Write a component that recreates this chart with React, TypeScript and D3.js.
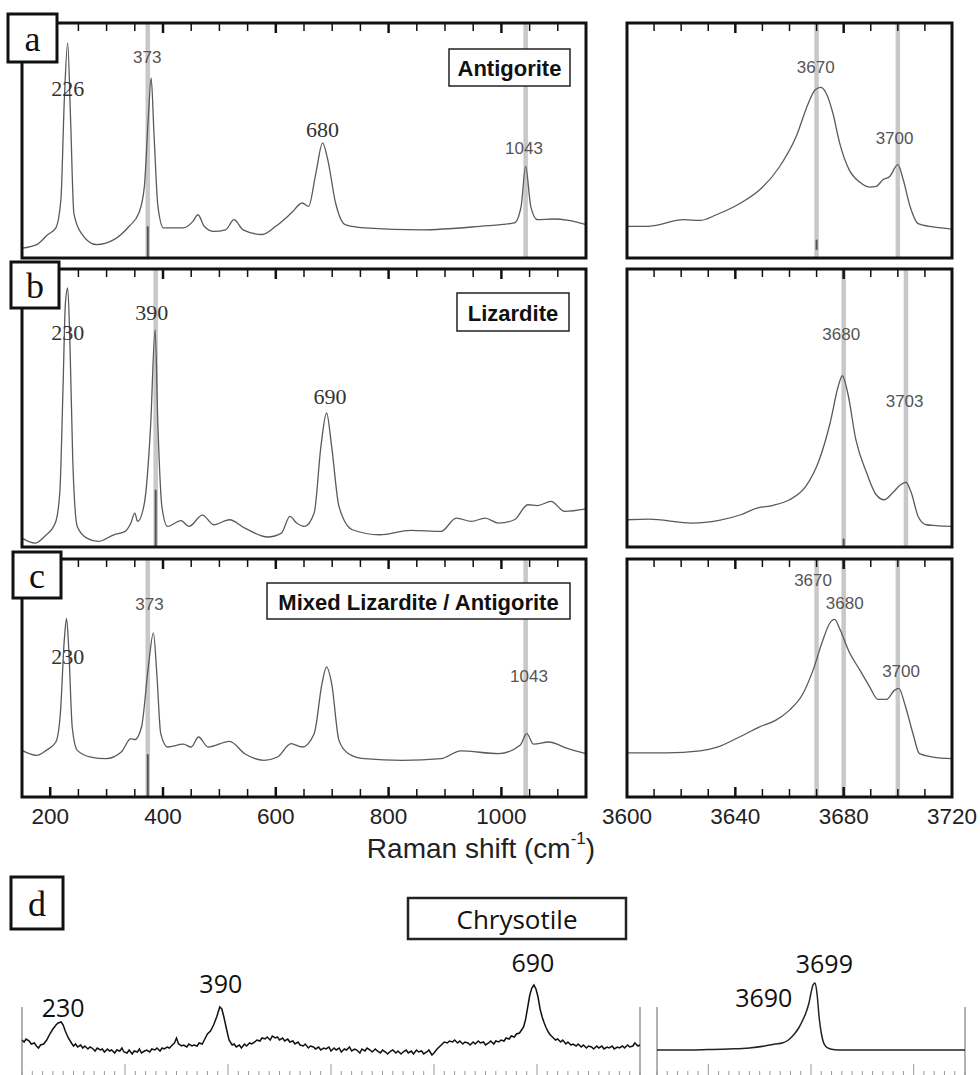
import React from 'react';
import * as d3 from 'd3';

type P = [number, number];
type Band = { at: number; dark?: [number, number] };
type Lab = { t: string; v: number; i: number; serif?: boolean };

// ---------- Data (x = Raman shift, y = relative intensity 0..1 of panel height) ----------
const antigoriteLow: P[] = [[150,.042],[176,.057],[196,.10],[210,.128],[219,.25],[225,.67],[231,.915],[236,.60],[242,.19],[255,.106],[282,.057],[313,.078],[340,.135],[357,.19],[367,.305],[374,.60],[379,.766],[384,.53],[391,.22],[401,.128],[436,.128],[453,.156],[462,.184],[473,.135],[490,.113],[511,.12],[526,.163],[542,.12],[576,.10],[600,.135],[627,.19],[647,.234],[658,.22],[671,.36],[683,.49],[692,.42],[706,.234],[723,.142],[757,.128],[859,.12],[962,.135],[1023,.149],[1035,.22],[1043,.39],[1052,.22],[1064,.163],[1091,.166],[1119,.16],[1150,.142]];
const antigoriteOH: P[] = [[3600,.135],[3608,.135],[3621,.163],[3627,.16],[3633,.184],[3642,.234],[3649,.29],[3656,.383],[3662.5,.518],[3667,.66],[3669.5,.716],[3671.5,.726],[3673.5,.702],[3676,.617],[3678.5,.49],[3682,.376],[3686,.322],[3689.5,.302],[3692,.305],[3694.5,.333],[3697,.347],[3700,.397],[3702,.333],[3704.5,.22],[3707.5,.146],[3713,.132],[3720,.123]];
const lizarditeLow: P[] = [[150,.032],[173,.014],[190,.038],[209,.086],[217,.194],[222.5,.554],[227,.878],[231,.932],[235,.734],[240,.314],[248,.074],[265,.032],[285,.02],[313,.044],[333,.056],[343,.086],[350,.122],[355,.092],[367,.158],[378,.434],[386,.782],[391,.434],[398,.146],[408,.074],[432,.095],[446,.074],[470,.115],[490,.08],[518,.098],[545,.068],[586,.036],[610,.05],[625,.11],[637,.086],[651,.074],[668,.122],[680,.362],[690,.482],[699,.362],[712,.146],[736,.062],[784,.044],[839,.06],[893,.056],[920,.104],[947,.092],[971,.104],[995,.086],[1023,.098],[1047,.152],[1064,.149],[1088,.164],[1112,.128],[1150,.137]];
const lizarditeOH: P[] = [[3600,.098],[3608,.10],[3624,.086],[3634,.096],[3642,.116],[3648,.14],[3654,.15],[3660,.17],[3666,.218],[3671,.314],[3675,.446],[3678,.578],[3679.5,.616],[3681.5,.554],[3684.5,.386],[3688.5,.266],[3692,.188],[3695,.17],[3698,.194],[3701,.224],[3703,.233],[3705,.194],[3707.5,.11],[3710.5,.08],[3714,.077],[3720,.074]];
const mixedLow: P[] = [[150,.196],[176,.175],[193,.196],[210,.231],[218,.35],[225,.66],[229,.75],[233,.617],[239,.295],[248,.196],[272,.168],[299,.161],[326,.189],[343,.245],[350,.241],[362,.295],[374,.547],[383,.69],[389,.519],[396,.266],[408,.21],[436,.222],[450,.21],[463,.252],[480,.21],[518,.234],[545,.182],[579,.154],[603,.168],[627,.224],[647,.21],[668,.266],[682,.477],[690,.547],[699,.477],[712,.238],[729,.182],[757,.161],[825,.154],[893,.161],[928,.194],[995,.182],[1033,.217],[1045,.266],[1057,.222],[1084,.231],[1118,.203],[1150,.182]];
const mixedOH: P[] = [[3600,.185],[3614.5,.185],[3627,.194],[3633,.208],[3641.5,.252],[3649,.295],[3655,.323],[3660,.365],[3665,.435],[3668.7,.533],[3672.3,.659],[3674.8,.729],[3676.7,.746],[3678.5,.708],[3682,.61],[3686,.533],[3689.6,.463],[3692.7,.41],[3695.8,.41],[3698.8,.449],[3700.4,.456],[3702.5,.393],[3705.6,.266],[3708,.182],[3713,.168],[3720,.161]];
const chrysotileLow: P[] = [[200,.35],[202,.33],[204,.36],[207,.34],[209,.31],[212,.32],[214,.29],[216,.27],[218,.30],[221,.31],[224,.35],[227,.41],[230,.46],[233,.50],[235,.52],[238,.53],[240,.50],[242,.44],[245,.37],[248,.32],[250,.29],[252,.31],[254,.28],[257,.30],[259,.27],[261,.29],[264,.26],[266,.28],[268,.27],[271,.24],[273,.27],[276,.25],[278,.26],[280,.23],[283,.26],[285,.24],[287,.25],[290,.22],[292,.25],[295,.24],[297,.27],[299,.23],[302,.22],[304,.25],[307,.21],[309,.24],[312,.23],[314,.26],[316,.22],[319,.24],[321,.25],[324,.23],[326,.26],[329,.25],[331,.27],[334,.24],[336,.27],[338,.26],[341,.28],[343,.27],[346,.30],[348,.32],[350,.37],[352,.31],[355,.29],[357,.30],[360,.28],[362,.31],[365,.29],[367,.30],[370,.29],[372,.32],[375,.31],[377,.35],[380,.41],[383,.44],[386,.50],[389,.58],[392,.68],[394,.66],[396,.58],[399,.44],[401,.35],[404,.30],[406,.31],[408,.28],[411,.30],[413,.27],[416,.31],[418,.29],[421,.32],[423,.31],[426,.33],[428,.35],[431,.34],[433,.37],[436,.36],[438,.38],[441,.35],[443,.39],[446,.37],[448,.38],[450,.35],[453,.37],[455,.34],[458,.36],[460,.33],[463,.34],[465,.31],[468,.33],[470,.30],[473,.29],[475,.31],[478,.27],[480,.29],[483,.28],[485,.26],[488,.28],[490,.25],[493,.27],[495,.26],[498,.28],[500,.24],[503,.27],[505,.25],[508,.27],[510,.23],[513,.26],[515,.25],[518,.28],[520,.24],[523,.26],[525,.25],[528,.22],[530,.26],[533,.24],[535,.27],[538,.25],[540,.23],[543,.26],[545,.24],[548,.22],[550,.25],[553,.23],[555,.21],[558,.24],[560,.25],[563,.22],[565,.24],[568,.21],[570,.23],[573,.25],[575,.22],[578,.24],[580,.21],[583,.25],[585,.23],[588,.24],[590,.21],[593,.23],[595,.25],[598,.20],[600,.22],[603,.26],[605,.28],[608,.31],[610,.33],[613,.32],[615,.34],[618,.33],[620,.35],[623,.32],[625,.34],[628,.31],[630,.33],[633,.32],[635,.30],[638,.33],[640,.31],[643,.34],[645,.32],[648,.33],[650,.30],[653,.32],[655,.34],[658,.31],[660,.34],[663,.33],[665,.35],[668,.34],[670,.37],[673,.36],[675,.39],[678,.38],[680,.41],[683,.42],[685,.45],[687,.48],[689,.56],[691,.68],[693,.80],[695,.87],[697,.90],[699,.86],[701,.78],[703,.66],[705,.58],[707,.52],[709,.47],[711,.43],[713,.40],[716,.37],[718,.35],[720,.36],[723,.33],[725,.35],[728,.31],[730,.33],[733,.30],[735,.31],[738,.29],[740,.31],[743,.28],[745,.30],[748,.27],[750,.29],[753,.28],[755,.26],[758,.29],[760,.27],[763,.29],[765,.26],[768,.28],[770,.27],[773,.29],[775,.26],[778,.28],[780,.27],[783,.29],[785,.27],[788,.30],[790,.28],[793,.29],[795,.32],[798,.29],[800,.30]];
const chrysotileOH: P[] = [[3550,.25],[3570,.25],[3600,.255],[3620,.26],[3640,.27],[3655,.29],[3665,.31],[3672,.32],[3678,.35],[3683,.40],[3688,.47],[3692,.55],[3695,.62],[3698,.72],[3700,.82],[3702,.90],[3704,.92],[3706,.80],[3708,.57],[3710,.42],[3712,.33],[3715,.28],[3719,.26],[3727,.25],[3760,.25],[3800,.25],[3850,.25]];

const antigoriteLowBands: Band[] = [{ at: 373, dark: [0, .135] }, { at: 1043 }];
const antigoriteOHBands: Band[] = [{ at: 3670, dark: [.035, .078] }, { at: 3700 }];
const lizarditeLowBands: Band[] = [{ at: 387, dark: [0, .206] }];
const lizarditeOHBands: Band[] = [{ at: 3680, dark: [0, .03] }, { at: 3703 }];
const mixedLowBands: Band[] = [{ at: 373, dark: [0, .18] }, { at: 1043 }];
const mixedOHBands: Band[] = [{ at: 3670 }, { at: 3680 }, { at: 3700 }];

const antigoriteLowLabels: Lab[] = [{ t: '226', v: 231, i: .72, serif: true }, { t: '373', v: 372, i: .855 }, { t: '680', v: 683, i: .546, serif: true }, { t: '1043', v: 1040, i: .468 }];
const antigoriteOHLabels: Lab[] = [{ t: '3670', v: 3669.7, i: .81 }, { t: '3700', v: 3698.8, i: .51 }];
const lizarditeLowLabels: Lab[] = [{ t: '230', v: 231, i: .77, serif: true }, { t: '390', v: 380, i: .842, serif: true }, { t: '690', v: 696, i: .54, serif: true }];
const lizarditeOHLabels: Lab[] = [{ t: '3680', v: 3679.1, i: .764 }, { t: '3703', v: 3702.5, i: .524 }];
const mixedLowLabels: Lab[] = [{ t: '230', v: 231, i: .59, serif: true }, { t: '373', v: 376, i: .81 }, { t: '1043', v: 1049, i: .505 }];
const mixedOHLabels: Lab[] = [{ t: '3670', v: 3668.7, i: .909 }, { t: '3680', v: 3680.4, i: .813 }, { t: '3700', v: 3701.2, i: .529 }];
const chrysotileLowLabels: Lab[] = [{ t: '230', v: 240, i: .68 }, { t: '390', v: 393, i: .92 }, { t: '690', v: 696, i: 1.13 }];
const chrysotileOHLabels: Lab[] = [{ t: '3690', v: 3654, i: .78 }, { t: '3699', v: 3713, i: 1.12 }];

const lowTicks = [200, 400, 600, 800, 1000];
const ohTicks = [3600, 3640, 3680, 3720];
const chrysLowTicks = [300, 400, 500, 600, 700];
const chrysOhTicks = [3600, 3700, 3800];

const mineralNames = ['Antigorite', 'Lizardite', 'Mixed Lizardite / Antigorite', 'Chrysotile'];
const panelLetters = ['a', 'b', 'c', 'd'];

// ---------- Layout ----------
const LEFT: [number, number] = [22, 586];
const RIGHT: [number, number] = [627, 952];
const LOW_DOM: [number, number] = [150, 1150];
const OH_DOM: [number, number] = [3600, 3720];
const ROWS: [number, number][] = [[23, 258], [269, 547], [559, 797]];
const LETTER_BOX = [[8, 14, 49, 48], [11, 262, 48, 46], [13, 552, 48, 46], [11, 877, 52, 52]];
const NAME_BOX = [[449, 49, 121, 37], [457, 293, 112, 38], [267, 583, 303, 36]];

const SANS = 'Liberation Sans, Arial, sans-serif';
const SERIF = 'Liberation Serif, Times New Roman, serif';

function SpecPanel(props: {
  xr: [number, number]; yr: [number, number]; dom: [number, number]; minor: number; major: number[];
  data: P[]; bands: Band[]; labels: Lab[]; bottom: boolean;
}) {
  const { xr, yr, dom, minor, major, data, bands, labels, bottom } = props;
  const x = d3.scaleLinear().domain(dom).range(xr);
  const y = d3.scaleLinear().domain([0, 1]).range([yr[1], yr[0]]);
  const line = d3.line<P>().x(d => x(d[0])).y(d => y(d[1])).curve(d3.curveMonotoneX);
  const ticks = d3.range(dom[0], dom[1] + 1e-6, minor);
  const isMajor = (t: number) => major.some(m => Math.abs(m - t) < 1e-6);
  return (
    <g>
      {bands.map((b, k) => (
        <line key={'b' + k} x1={x(b.at)} x2={x(b.at)} y1={yr[0]} y2={yr[1]} stroke="#c8c8c8" strokeWidth={4.5} />
      ))}
      {bands.filter(b => b.dark).map((b, k) => (
        <line key={'d' + k} x1={x(b.at)} x2={x(b.at)} y1={y(b.dark![0])} y2={y(b.dark![1])} stroke="#555" strokeWidth={2} />
      ))}
      <path d={line(data) || ''} fill="none" stroke="#5a5a5a" strokeWidth={1.3} />
      {ticks.map((t, k) => (
        <line key={'t' + k} x1={x(t)} x2={x(t)} y1={yr[0]} y2={yr[0] + (isMajor(t) ? 10 : 8)} stroke="#111" strokeWidth={isMajor(t) ? 2.5 : 1.5} />
      ))}
      {bottom && ticks.map((t, k) => (
        <line key={'bt' + k} x1={x(t)} x2={x(t)} y1={yr[1]} y2={yr[1] - (isMajor(t) ? 10 : 8)} stroke="#111" strokeWidth={isMajor(t) ? 2.5 : 1.5} />
      ))}
      <rect x={xr[0]} y={yr[0]} width={xr[1] - xr[0]} height={yr[1] - yr[0]} fill="none" stroke="#111" strokeWidth={3} />
      {labels.map((l, k) => (
        <text key={'l' + k} x={x(l.v)} y={y(l.i)} textAnchor="middle" dominantBaseline="central"
          fontFamily={l.serif ? SERIF : SANS} fontSize={l.serif ? 22 : 17} fill={l.serif ? '#333' : '#555'}>{l.t}</text>
      ))}
    </g>
  );
}

function LetterBox({ idx }: { idx: number }) {
  const [bx, by, bw, bh] = LETTER_BOX[idx];
  return (
    <g>
      <rect x={bx} y={by} width={bw} height={bh} fill="#fff" stroke="#111" strokeWidth={3} />
      <text x={bx + bw / 2} y={by + bh / 2 + 1} textAnchor="middle" dominantBaseline="central" fontFamily={SERIF} fontSize={36} fill="#111">{panelLetters[idx]}</text>
    </g>
  );
}

export default function App() {
  const rows = [
    { low: antigoriteLow, oh: antigoriteOH, lb: antigoriteLowBands, ob: antigoriteOHBands, ll: antigoriteLowLabels, ol: antigoriteOHLabels },
    { low: lizarditeLow, oh: lizarditeOH, lb: lizarditeLowBands, ob: lizarditeOHBands, ll: lizarditeLowLabels, ol: lizarditeOHLabels },
    { low: mixedLow, oh: mixedOH, lb: mixedLowBands, ob: mixedOHBands, ll: mixedLowLabels, ol: mixedOHLabels },
  ];
  const xLow = d3.scaleLinear().domain(LOW_DOM).range(LEFT);
  const xOH = d3.scaleLinear().domain(OH_DOM).range(RIGHT);

  // panel d
  const dLeft: [number, number] = [22, 640];
  const dRight: [number, number] = [657, 965];
  const xdL = d3.scaleLinear().domain([200, 800]).range(dLeft);
  const xdR = d3.scaleLinear().domain([3550, 3850]).range(dRight);
  const yd = d3.scaleLinear().domain([0, 1]).range([1075, 975]);
  const dLine = (xs: d3.ScaleLinear<number, number>) => d3.line<P>().x(d => xs(d[0])).y(d => yd(d[1]));
  const minorL = d3.range(200, 800.001, 10);
  const minorR = d3.range(3550, 3850.001, 10);
  const dFont = 'Open Sans, Liberation Sans, sans-serif';

  return (
    <svg width={980} height={1075} style={{ position: 'absolute', left: 0, top: 0, background: '#fff' }}>
      <rect x={0} y={0} width={980} height={1075} fill="#fff" />
      {rows.map((r, k) => (
        <g key={k}>
          <SpecPanel xr={LEFT} yr={ROWS[k]} dom={LOW_DOM} minor={50} major={lowTicks} data={r.low} bands={r.lb} labels={r.ll} bottom={k === 2} />
          <SpecPanel xr={RIGHT} yr={ROWS[k]} dom={OH_DOM} minor={10} major={[3640, 3680]} data={r.oh} bands={r.ob} labels={r.ol} bottom={k === 2} />
          <rect x={NAME_BOX[k][0]} y={NAME_BOX[k][1]} width={NAME_BOX[k][2]} height={NAME_BOX[k][3]} fill="#fff" stroke="#222" strokeWidth={1.5} />
          <text x={NAME_BOX[k][0] + NAME_BOX[k][2] / 2} y={NAME_BOX[k][1] + NAME_BOX[k][3] / 2 + 1} textAnchor="middle" dominantBaseline="central"
            fontFamily={SANS} fontWeight="bold" fontSize={22} fill="#111">{mineralNames[k]}</text>
          <LetterBox idx={k} />
        </g>
      ))}
      {lowTicks.map(t => (
        <text key={'xl' + t} x={xLow(t)} y={816} textAnchor="middle" dominantBaseline="central" fontFamily={SANS} fontSize={22.5} fill="#222">{t}</text>
      ))}
      {ohTicks.map(t => (
        <text key={'xo' + t} x={xOH(t)} y={816} textAnchor="middle" dominantBaseline="central" fontFamily={SANS} fontSize={22.5} fill="#222">{t}</text>
      ))}
      <text x={481} y={848} textAnchor="middle" dominantBaseline="central" fontFamily={SANS} fontSize={28} fill="#222">
        Raman shift (cm<tspan dy={-10} fontSize={17}>-1</tspan><tspan dy={10}>)</tspan>
      </text>

      {/* Panel d */}
      <LetterBox idx={3} />
      <rect x={408} y={898} width={218} height={41} fill="#fff" stroke="#222" strokeWidth={2.5} />
      <text x={517} y={919} textAnchor="middle" dominantBaseline="central" fontFamily={dFont} fontSize={26} fill="#111">{mineralNames[3]}</text>
      {[dLeft[0], dLeft[1], dRight[0], dRight[1]].map((xx, k) => (
        <line key={'v' + k} x1={xx} x2={xx} y1={1007} y2={1075} stroke="#999" strokeWidth={1.5} />
      ))}
      {minorL.map(t => (
        <line key={'ml' + t} x1={xdL(t)} x2={xdL(t)} y1={1075} y2={chrysLowTicks.includes(t) ? 1064 : 1071} stroke="#999" strokeWidth={1} />
      ))}
      {minorR.map(t => (
        <line key={'mr' + t} x1={xdR(t)} x2={xdR(t)} y1={1075} y2={chrysOhTicks.includes(t) ? 1064 : 1071} stroke="#999" strokeWidth={1} />
      ))}
      <path d={dLine(xdL)(chrysotileLow) || ''} fill="none" stroke="#111" strokeWidth={1.5} />
      <path d={dLine(xdR).curve(d3.curveMonotoneX)(chrysotileOH) || ''} fill="none" stroke="#222" strokeWidth={1.5} />
      {chrysotileLowLabels.map(l => (
        <text key={'cl' + l.t} x={xdL(l.v)} y={yd(l.i)} textAnchor="middle" dominantBaseline="central" fontFamily={dFont} fontSize={25} fill="#111">{l.t}</text>
      ))}
      {chrysotileOHLabels.map(l => (
        <text key={'co' + l.t} x={xdR(l.v)} y={yd(l.i)} textAnchor="middle" dominantBaseline="central" fontFamily={dFont} fontSize={25} fill="#111">{l.t}</text>
      ))}
    </svg>
  );
}
